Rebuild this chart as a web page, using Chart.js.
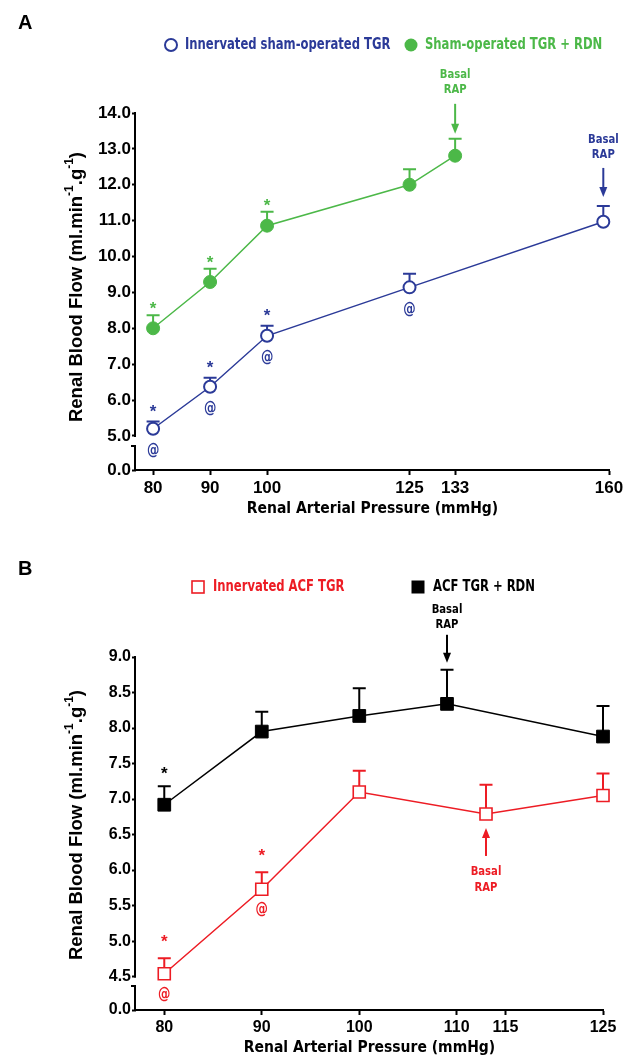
<!DOCTYPE html>
<html>
<head>
<meta charset="utf-8">
<title>Renal blood flow vs renal arterial pressure</title>
<script src="https://cdn.jsdelivr.net/npm/chart.js@4.4.1/dist/chart.umd.min.js"></script>
<style>
  html, body { margin: 0; padding: 0; background: #fff; }
  body { width: 635px; height: 1058px; position: relative; overflow: hidden; }
  canvas { position: absolute; left: 0; }
  #chartA { top: 0; }
  #chartB { top: 525px; }
</style>
</head>
<body>
<canvas id="chartA" width="635" height="525"></canvas>
<canvas id="chartB" width="635" height="533"></canvas>
<script>
const FONT_ARIAL = '"Liberation Sans", Arial, sans-serif';
const FONT_NARROW = '"Liberation Sans Narrow", "DejaVu Sans Condensed", sans-serif';
const NARROW_SCALE = 0.86; // squeeze the condensed labels a bit more

const BLUE = '#2b3a98';
const GREEN = '#4cb848';
const RED = '#ed1c24';
const BLACK = '#000000';

// Panel A - sham-operated TGR
const pressureShamInn = [80, 90, 100, 125, 159];
const rbfShamInn = [5.20, 6.37, 7.79, 9.14, 10.97];
const semShamInn = [0.20, 0.25, 0.28, 0.38, 0.44];
const pressureShamRdn = [80, 90, 100, 125, 133];
const rbfShamRdn = [8.00, 9.29, 10.86, 12.00, 12.81];
const semShamRdn = [0.36, 0.37, 0.39, 0.43, 0.47];
const xTicksA = [80, 90, 100, 125, 133, 160];
const yTicksA = [5, 6, 7, 8, 9, 10, 11, 12, 13, 14];

// Panel B - ACF TGR
const pressureAcfInn = [80, 90, 100, 113, 125];
const rbfAcfInn = [4.54, 5.73, 7.10, 6.79, 7.05];
const semAcfInn = [0.22, 0.24, 0.30, 0.41, 0.31];
const pressureAcfRdn = [80, 90, 100, 109, 125];
const rbfAcfRdn = [6.92, 7.95, 8.17, 8.34, 7.88];
const semAcfRdn = [0.26, 0.28, 0.39, 0.48, 0.43];
const xTicksB = [80, 90, 100, 110, 115, 125];
const yTicksB = [4.5, 5, 5.5, 6, 6.5, 7, 7.5, 8, 8.5, 9];

// significance marks (point indexes)
const starShamInn = [0, 1, 2];
const atShamInn = [0, 1, 2, 3];
const starShamRdn = [0, 1, 2];
const starAcfRdn = [0];
const starAcfInn = [0, 1];
const atAcfInn = [0, 1];

const toXY = (xs, ys) => xs.map((x, i) => ({ x: x, y: ys[i] }));

function narrowText(ctx, text, x, y, align) {
  ctx.save();
  ctx.translate(x, y);
  ctx.scale(NARROW_SCALE, 1);
  ctx.textAlign = align;
  ctx.fillText(text, 0, 0);
  ctx.restore();
}

function drawArrow(ctx, x, from, to, color) {
  const dir = Math.sign(to - from);
  ctx.save();
  ctx.strokeStyle = color;
  ctx.fillStyle = color;
  ctx.lineWidth = 2;
  ctx.beginPath();
  ctx.moveTo(x, from);
  ctx.lineTo(x, to - dir * 8);
  ctx.stroke();
  ctx.beginPath();
  ctx.moveTo(x, to);
  ctx.lineTo(x - 4, to - dir * 10);
  ctx.lineTo(x + 4, to - dir * 10);
  ctx.closePath();
  ctx.fill();
  ctx.restore();
}

function drawMarker(ctx, kind, x, y, color) {
  ctx.save();
  ctx.strokeStyle = color;
  ctx.fillStyle = color;
  ctx.lineWidth = 2;
  ctx.beginPath();
  if (kind === 'circle') {
    ctx.arc(x, y, 6, 0, Math.PI * 2);
    ctx.stroke();
  } else if (kind === 'disc') {
    ctx.arc(x, y, 6.5, 0, Math.PI * 2);
    ctx.fill();
  } else if (kind === 'square') {
    ctx.lineWidth = 1.6;
    ctx.strokeRect(x - 6, y - 6, 12, 12);
  } else {
    ctx.fillRect(x - 6.5, y - 6.5, 13, 13);
  }
  ctx.restore();
}

function drawYTitle(ctx, x, cy) {
  const parts = [['Renal Blood Flow (ml.min', false], ['-1', true], ['.g', false], ['-1', true], [')', false]];
  const main = 'bold 18.5px ' + FONT_ARIAL;
  const sup = 'bold 12px ' + FONT_ARIAL;
  ctx.save();
  let total = 0;
  parts.forEach(p => { ctx.font = p[1] ? sup : main; total += ctx.measureText(p[0]).width; });
  ctx.translate(x, cy);
  ctx.rotate(-Math.PI / 2);
  ctx.fillStyle = '#000';
  ctx.textAlign = 'left';
  ctx.textBaseline = 'alphabetic';
  let pos = -total / 2;
  parts.forEach(p => {
    ctx.font = p[1] ? sup : main;
    ctx.fillText(p[0], pos, p[1] ? -2 : 7);
    pos += ctx.measureText(p[0]).width;
  });
  ctx.restore();
}

const figurePlugin = {
  id: 'figure',
  beforeDatasetsDraw(chart) {
    // upper error bars
    const ctx = chart.ctx;
    const yScale = chart.scales.y;
    chart.data.datasets.forEach((ds, di) => {
      const meta = chart.getDatasetMeta(di);
      ctx.save();
      ctx.strokeStyle = ds.borderColor;
      ctx.lineWidth = 2;
      meta.data.forEach((pt, i) => {
        const top = yScale.getPixelForValue(ds.data[i].y + ds.sem[i]);
        ctx.beginPath();
        ctx.moveTo(pt.x, pt.y);
        ctx.lineTo(pt.x, top);
        ctx.moveTo(pt.x - 6.5, top);
        ctx.lineTo(pt.x + 6.5, top);
        ctx.stroke();
      });
      ctx.restore();
    });
  },
  afterDraw(chart, args, opts) {
    const ctx = chart.ctx;
    const yScale = chart.scales.y;
    const area = chart.chartArea;

    // broken y axis
    const x0 = Math.round(area.left) - 1;
    const yTop = yScale.getPixelForValue(yScale.max);
    const yBreak = yScale.getPixelForValue(opts.breakAt);
    const yFloor = yScale.getPixelForValue(yScale.min);
    ctx.save();
    ctx.strokeStyle = '#000';
    ctx.lineWidth = 2;
    ctx.beginPath();
    ctx.moveTo(x0, yTop - 1);
    ctx.lineTo(x0, yBreak + 1);
    ctx.moveTo(x0, yFloor);
    ctx.lineTo(x0, yFloor - 24);
    ctx.lineTo(x0 - 4, yFloor - 24);
    ctx.stroke();
    ctx.restore();

    drawYTitle(ctx, 75, opts.titleY);

    // panel letter
    ctx.save();
    ctx.fillStyle = '#000';
    ctx.font = 'bold 20px ' + FONT_ARIAL;
    ctx.textBaseline = 'alphabetic';
    ctx.fillText(opts.letter, 18, opts.letterY);

    // legend
    ctx.font = 'bold 15px ' + FONT_NARROW;
    ctx.textBaseline = 'middle';
    opts.legend.forEach(item => {
      drawMarker(ctx, item.marker, item.mx, opts.legendY, item.color);
      ctx.fillStyle = item.color;
      narrowText(ctx, item.text, item.tx, opts.legendY, 'left');
    });

    // significance marks and basal RAP arrows
    chart.data.datasets.forEach((ds, di) => {
      const meta = chart.getDatasetMeta(di);
      ctx.fillStyle = ds.borderColor;
      (ds.stars || []).forEach(i => {
        const pt = meta.data[i];
        const top = yScale.getPixelForValue(ds.data[i].y + ds.sem[i]);
        ctx.font = 'bold 17px ' + FONT_ARIAL;
        ctx.textBaseline = 'alphabetic';
        ctx.textAlign = 'center';
        ctx.fillText('*', pt.x, top - ds.starGap + 10);
      });
      (ds.ats || []).forEach(i => {
        const pt = meta.data[i];
        ctx.font = 'bold 16px ' + FONT_NARROW;
        ctx.textBaseline = 'middle';
        narrowText(ctx, '@', pt.x, pt.y + ds.atGap, 'center');
      });
      const b = ds.basal;
      if (b) {
        const pt = meta.data[b.index];
        ctx.font = 'bold 13px ' + FONT_NARROW;
        ctx.textBaseline = 'middle';
        if (b.dir === 'down') {
          const top = yScale.getPixelForValue(ds.data[b.index].y + ds.sem[b.index]);
          const tip = top - b.gap;
          const start = tip - b.len;
          drawArrow(ctx, pt.x, start, tip, ds.borderColor);
          narrowText(ctx, 'RAP', pt.x, start - b.label, 'center');
          narrowText(ctx, 'Basal', pt.x, start - b.label - 15.5, 'center');
        } else {
          const tip = pt.y + b.gap;
          const start = tip + b.len;
          drawArrow(ctx, pt.x, start, tip, ds.borderColor);
          narrowText(ctx, 'Basal', pt.x, start + b.label, 'center');
          narrowText(ctx, 'RAP', pt.x, start + b.label + 16, 'center');
        }
      }
    });
    ctx.restore();
  }
};

function axisOptions(cfg) {
  return {
    x: {
      type: 'linear',
      min: cfg.xMin,
      max: cfg.xMax,
      afterBuildTicks: s => { s.ticks = cfg.xTicks.map(v => ({ value: v })); },
      afterFit: s => { s.height = cfg.xHeight; },
      grid: { drawOnChartArea: false, drawTicks: true, tickLength: 5, tickWidth: 2, tickColor: '#000' },
      border: { display: true, color: '#000', width: 2 },
      ticks: {
        color: '#000',
        autoSkip: false,
        maxRotation: 0,
        padding: 3,
        font: { family: FONT_ARIAL, size: cfg.tickSize, weight: 'bold' },
        callback: v => String(v)
      },
      title: {
        display: true,
        text: 'Renal Arterial Pressure (mmHg)',
        color: '#000',
        font: { family: FONT_NARROW, size: 15.5, weight: 'bold' },
        padding: { top: 0, bottom: cfg.titlePad }
      }
    },
    y: {
      type: 'linear',
      min: cfg.yFloor,
      max: cfg.yMax,
      afterBuildTicks: s => { s.ticks = [cfg.yFloor].concat(cfg.yTicks).map(v => ({ value: v })); },
      afterFit: s => { s.width = 136; },
      grid: { drawOnChartArea: false, drawTicks: true, tickLength: 4, tickWidth: 2, tickColor: '#000' },
      border: { display: false },
      ticks: {
        color: '#000',
        padding: 1,
        font: { family: FONT_ARIAL, size: cfg.tickSize, weight: 'bold' },
        callback: v => (v === cfg.yFloor ? '0.0' : v.toFixed(1))
      }
    }
  };
}

// Panel A
new Chart(document.getElementById('chartA'), {
  type: 'line',
  data: {
    datasets: [
      {
        label: 'Innervated sham-operated TGR',
        data: toXY(pressureShamInn, rbfShamInn),
        sem: semShamInn,
        stars: starShamInn, starGap: 15,
        ats: atShamInn, atGap: 22,
        basal: { index: 4, dir: 'down', gap: 9, len: 29, label: 13 },
        borderColor: BLUE,
        backgroundColor: '#fff',
        borderWidth: 1.5,
        pointStyle: 'circle',
        pointRadius: 6,
        pointBorderWidth: 2,
        pointBackgroundColor: '#fff',
        pointBorderColor: BLUE,
        tension: 0,
        clip: false
      },
      {
        label: 'Sham-operated TGR + RDN',
        data: toXY(pressureShamRdn, rbfShamRdn),
        sem: semShamRdn,
        stars: starShamRdn, starGap: 11,
        basal: { index: 4, dir: 'down', gap: 5, len: 30, label: 14 },
        borderColor: GREEN,
        backgroundColor: GREEN,
        borderWidth: 1.5,
        pointStyle: 'circle',
        pointRadius: 6.5,
        pointBorderWidth: 1,
        pointBackgroundColor: GREEN,
        pointBorderColor: GREEN,
        tension: 0,
        clip: false
      }
    ]
  },
  options: {
    responsive: false,
    animation: false,
    layout: { padding: { top: 113, left: 0, right: 26, bottom: 5 } },
    plugins: {
      legend: { display: false },
      tooltip: { enabled: false },
      figure: {
        letter: 'A', letterY: 29,
        breakAt: 5,
        titleY: 287,
        legendY: 45,
        legend: [
          { marker: 'circle', mx: 171, tx: 185, color: BLUE, text: 'Innervated sham-operated TGR' },
          { marker: 'disc', mx: 411, tx: 425, color: GREEN, text: 'Sham-operated TGR + RDN' }
        ]
      }
    },
    scales: axisOptions({
      xMin: 77, xMax: 160, xTicks: xTicksA, xHeight: 50, titlePad: 2,
      yFloor: 4.05, yMax: 14, yTicks: yTicksA, tickSize: 17
    })
  },
  plugins: [figurePlugin]
});

// Panel B
new Chart(document.getElementById('chartB'), {
  type: 'line',
  data: {
    datasets: [
      {
        label: 'Innervated ACF TGR',
        data: toXY(pressureAcfInn, rbfAcfInn),
        sem: semAcfInn,
        stars: starAcfInn, starGap: 21,
        ats: atAcfInn, atGap: 21,
        basal: { index: 3, dir: 'up', gap: 14, len: 28, label: 16 },
        borderColor: RED,
        backgroundColor: '#fff',
        borderWidth: 1.5,
        pointStyle: 'rect',
        pointRadius: 8.5,
        pointBorderWidth: 1.6,
        pointBackgroundColor: '#fff',
        pointBorderColor: RED,
        tension: 0,
        clip: false
      },
      {
        label: 'ACF TGR + RDN',
        data: toXY(pressureAcfRdn, rbfAcfRdn),
        sem: semAcfRdn,
        stars: starAcfRdn, starGap: 17,
        basal: { index: 3, dir: 'down', gap: 7, len: 28, label: 10 },
        borderColor: BLACK,
        backgroundColor: BLACK,
        borderWidth: 1.5,
        pointStyle: 'rect',
        pointRadius: 9,
        pointBorderWidth: 1,
        pointBackgroundColor: BLACK,
        pointBorderColor: BLACK,
        tension: 0,
        clip: false
      }
    ]
  },
  options: {
    responsive: false,
    animation: false,
    layout: { padding: { top: 132, left: 0, right: 32, bottom: 0 } },
    plugins: {
      legend: { display: false },
      tooltip: { enabled: false },
      figure: {
        letter: 'B', letterY: 50,
        breakAt: 4.5,
        titleY: 300,
        legendY: 62,
        legend: [
          { marker: 'square', mx: 198, tx: 213, color: RED, text: 'Innervated ACF TGR' },
          { marker: 'block', mx: 418, tx: 433, color: BLACK, text: 'ACF TGR + RDN' }
        ]
      }
    },
    scales: axisOptions({
      xMin: 77.1, xMax: 125, xTicks: xTicksB, xHeight: 48, titlePad: 1,
      yFloor: 4.03, yMax: 9, yTicks: yTicksB, tickSize: 16
    })
  },
  plugins: [figurePlugin]
});
</script>
</body>
</html>
